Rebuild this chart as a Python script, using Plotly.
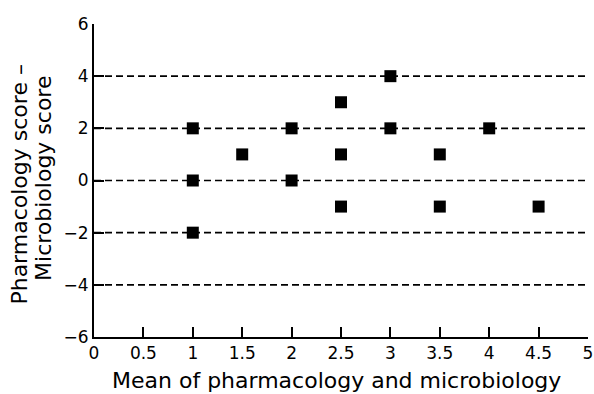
import plotly.graph_objects as go

# Data
mean_scores = [1, 1, 1, 1.5, 2, 2, 2.5, 2.5, 2.5, 3, 3, 3.5, 3.5, 4, 4.5]
diff_scores = [2, 0, -2, 1, 2, 0, 3, 1, -1, 4, 2, 1, -1, 2, -1]
ref_levels = [4, 2, 0, -2, -4]
x_range = [0, 5]
y_range = [-6, 6]
x_ticks = [0, 0.5, 1, 1.5, 2, 2.5, 3, 3.5, 4, 4.5, 5]
x_ticklabels = ["0", "0.5", "1", "1.5", "2", "2.5", "3", "3.5", "4", "4.5", "5"]
y_ticks = [-6, -4, -2, 0, 2, 4, 6]
y_ticklabels = ["\u22126", "\u22124", "\u22122", "0", "2", "4", "6"]
x_title = "Mean of pharmacology and microbiology"
y_title_lines = ["Pharmacology score \u2013", "Microbiology score"]

FONT = "DejaVu Sans, Liberation Sans, Arial, sans-serif"

fig = go.Figure()

for lvl in ref_levels:
    fig.add_trace(go.Scatter(
        x=x_range, y=[lvl, lvl], mode="lines",
        line=dict(color="black", width=1.6, dash="7px,4px"),
        hoverinfo="skip", showlegend=False,
    ))

fig.add_trace(go.Scatter(
    x=mean_scores, y=diff_scores, mode="markers",
    marker=dict(symbol="square", size=12, color="black", line=dict(width=0)),
    showlegend=False,
))

axis_common = dict(
    showline=True, linecolor="black", linewidth=2,
    ticks="inside", ticklen=10, tickwidth=1.5, tickcolor="black",
    showgrid=False, zeroline=False, automargin=False,
    ticklabeloverflow="allow",
    tickfont=dict(family=FONT, size=17, color="black"),
)

title_font = dict(family=FONT, size=22, color="black")

fig.update_layout(
    width=594, height=394,
    margin=dict(l=94, r=6, t=24, b=57),
    paper_bgcolor="white", plot_bgcolor="white",
    xaxis=dict(range=x_range, tickvals=x_ticks, ticktext=x_ticklabels, **axis_common),
    yaxis=dict(range=y_range, tickvals=y_ticks, ticktext=y_ticklabels, **axis_common),
    annotations=[
        dict(text=x_title, xref="paper", yref="paper", x=0.49, y=-0.139,
             xanchor="center", yanchor="middle", showarrow=False, font=title_font),
        dict(text=y_title_lines[0], xref="paper", yref="paper", x=-0.1498, y=0.487,
             xanchor="center", yanchor="middle", showarrow=False, textangle=-90,
             font=title_font),
        dict(text=y_title_lines[1], xref="paper", yref="paper", x=-0.1012, y=0.505,
             xanchor="center", yanchor="middle", showarrow=False, textangle=-90,
             font=title_font),
    ],
)

fig.write_html(
    "out.html",
    config={"displayModeBar": False},
    post_script="document.body.style.margin='0';document.body.style.overflow='hidden';",
)
